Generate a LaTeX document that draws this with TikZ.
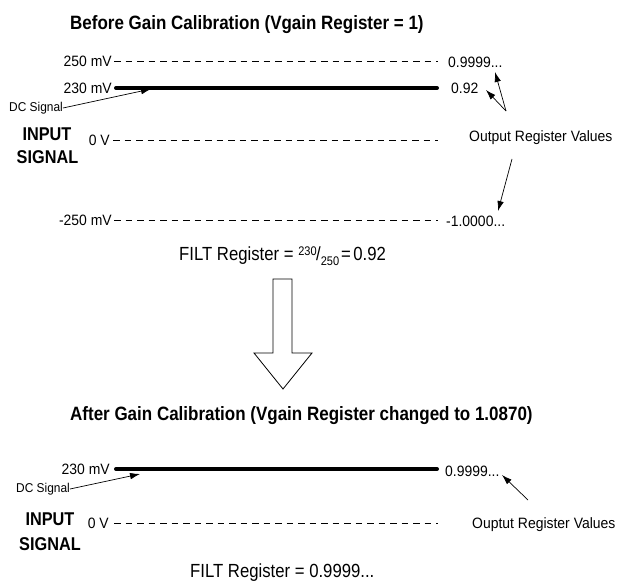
\documentclass[tikz,border=0pt]{standalone}
\usepackage{fontspec}
\setmainfont{Liberation Sans}
\newfontfamily\labfont[FakeStretch=0.93]{Liberation Sans}
\newfontfamily\ttlfont[FakeStretch=0.88]{Liberation Sans}
\usetikzlibrary{arrows.meta}
\begin{document}
\begin{tikzpicture}[x=1pt,y=-1pt,
  lab/.style={inner sep=0pt, font=\labfont\fontsize{15}{15}\selectfont},
  small/.style={inner sep=0pt, font=\labfont\fontsize{12.8}{13}\selectfont},
  ttl/.style={inner sep=0pt, font=\ttlfont\bfseries\fontsize{19.3}{20}\selectfont},
  inp/.style={inner sep=0pt, font=\ttlfont\bfseries\fontsize{18.5}{19}\selectfont},
  filt/.style={inner sep=0pt, font=\ttlfont\fontsize{19}{20}\selectfont},
  dashln/.style={line width=0.8pt, dash pattern=on 6.5pt off 5pt},
  sigln/.style={line width=4pt, line cap=round},
  ptr/.style={line width=0.7pt, -{Latex[length=10pt,width=6.5pt]}},
  blockarrow/.style={line width=0.8pt, fill=white}
]
\useasboundingbox (0,0) rectangle (624,583);

% ---------- Before ----------
\node[ttl, anchor=west] (t1) at (70,25) {Before Gain Calibration (Vgain Register = 1)};

\node[lab, anchor=east] (l250) at (112,61) {250 mV};
\node[lab, anchor=east] (l230) at (112,88) {230 mV};
\node[lab, anchor=east] (l0) at (110,140) {0 V};
\node[lab, anchor=east] (lm250) at (112,220) {-250 mV};

\node[lab, anchor=west] (r250) at (448,62) {0.9999...};
\node[lab, anchor=west] (r230) at (451,88) {0.92};
\node[lab, anchor=west] (rm250) at (446,221) {-1.0000...};

\coordinate (s250) at (114,61);  \coordinate (e250) at (438,61);
\coordinate (s230) at (116,88);  \coordinate (e230) at (437,88);
\coordinate (s0) at (113,140);   \coordinate (e0) at (438,140);
\coordinate (sm250) at (114,220); \coordinate (em250) at (438,220);

\draw[dashln] (s250) -- (e250);
\draw[sigln] (s230) -- (e230);
\draw[dashln] (s0) -- (e0);
\draw[dashln] (sm250) -- (em250);

\node[small, anchor=west] (dc1) at (9,108) {DC Signal};
\coordinate (dc1tip) at (151,89);
\draw[ptr] (dc1.east) -- (dc1tip);

\node[inp] (in1) at (47,134) {INPUT};
\node[inp] (sg1) at (47.5,157) {SIGNAL};

\node[lab, anchor=west] (out1) at (469,138) {Output Register Values};
\coordinate (o1a) at (506,111);
\coordinate (o1b) at (512,159);
\coordinate (tipA) at (495,72);
\coordinate (tipB) at (486,90);
\coordinate (tipC) at (498,211);
\draw[ptr] (o1a) -- (tipA);
\draw[ptr] (o1a) -- (tipB);
\draw[ptr] (o1b) -- (tipC);

\node[filt, anchor=west] (f1) at (179,256) {FILT Register =
  \raisebox{5pt}{\fontsize{12.5}{12}\selectfont 230}\kern-0.5pt/\raisebox{-5pt}{\fontsize{12.5}{12}\selectfont 250}\kern2pt=\kern2.5pt0.92};

% ---------- block arrow ----------
\draw[blockarrow] (273,279) -- (292,279) -- (292,353) -- (312,353) -- (283,389)
  -- (254,353) -- (273,353) -- cycle;

% ---------- After ----------
\node[ttl, anchor=west] (t2) at (70,416) {After Gain Calibration (Vgain Register changed to 1.0870)};

\node[lab, anchor=east] (m230) at (110,469) {230 mV};
\node[lab, anchor=east] (m0) at (109,523) {0 V};
\node[lab, anchor=west] (q230) at (445,471) {0.9999...};

\coordinate (t230s) at (116,469); \coordinate (t230e) at (437,469);
\coordinate (t0s) at (114,523);   \coordinate (t0e) at (438,523);
\draw[sigln] (t230s) -- (t230e);
\draw[dashln] (t0s) -- (t0e);

\node[small, anchor=west] (dc2) at (16,489) {DC Signal};
\coordinate (dc2tip) at (140,474);
\draw[ptr] (dc2.east) -- (dc2tip);

\node[inp] (in2) at (50,519) {INPUT};
\node[inp] (sg2) at (50,544) {SIGNAL};

\node[lab, anchor=west] (out2) at (472,525) {Ouptut Register Values};
\coordinate (o2a) at (528,500);
\coordinate (tipD) at (502,475);
\draw[ptr] (o2a) -- (tipD);

\node[filt, anchor=west] (f2) at (190,573) {FILT Register = 0.9999...};
\end{tikzpicture}
\end{document}
